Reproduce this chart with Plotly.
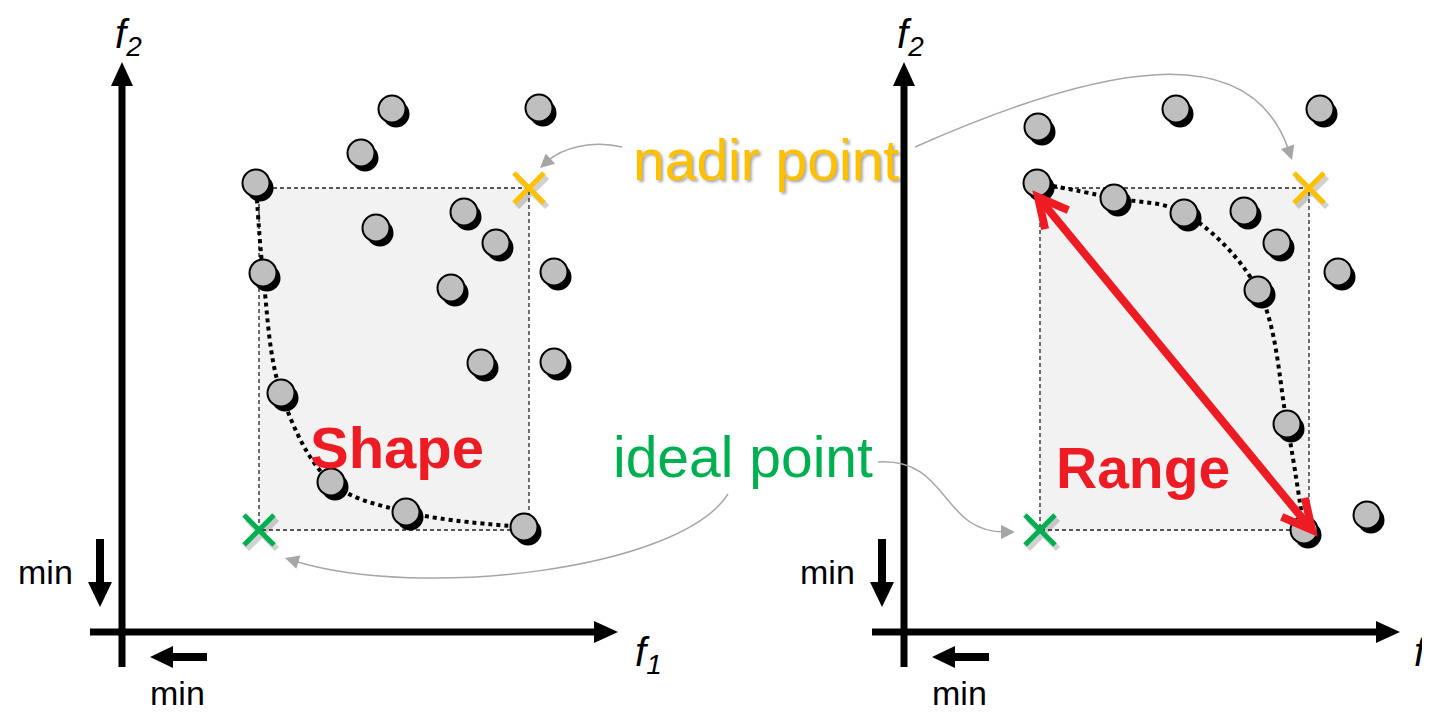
import numpy as np
import plotly.graph_objects as go

# objective values of the solutions, in figure pixel units (f2 measured downward)
left_f1 = [392, 539, 361, 256, 464, 376, 496, 263, 554, 451, 481, 554, 281, 331, 406, 524]
left_f2 = [109, 108, 153, 183, 212, 228, 243, 273, 272, 288, 363, 362, 393, 482, 512, 527]
left_front_f1 = [256, 263, 281, 331, 406, 524]
left_front_f2 = [183, 273, 393, 482, 512, 527]

right_f1 = [1038, 1176, 1320, 1037, 1114, 1184, 1244, 1277, 1338, 1258, 1287, 1304, 1367]
right_f2 = [127, 109, 109, 183, 198, 213, 211, 243, 272, 290, 424, 530, 515]
right_front_f1 = [1037, 1114, 1184, 1258, 1287, 1304]
right_front_f2 = [183, 198, 213, 290, 424, 530]

nadir_f1 = [529, 1309]
nadir_f2 = [188, 188]
ideal_f1 = [259, 1040]
ideal_f2 = [530, 530]

RED = "#ED1C24"
GOLD = "#FFC000"
GREEN = "#00B050"
GRAY = "#A6A6A6"
FONT = "Liberation Sans, Arial, sans-serif"
PAGE = 8  # body margin of the html page


def tri(tip, direction, length, half):
    d = np.array(direction, float)
    d /= np.linalg.norm(d)
    n = np.array([-d[1], d[0]])
    t = np.array(tip, float)
    b = t - d * length
    p1, p2 = b + n * half, b - n * half
    return f"M {t[0]:.1f},{t[1]:.1f} L {p1[0]:.1f},{p1[1]:.1f} L {p2[0]:.1f},{p2[1]:.1f} Z"


def vee(tip, direction, length, angle):
    d = np.array(direction, float)
    d /= np.linalg.norm(d)
    t = np.array(tip, float)
    pts = []
    for a in (angle, -angle):
        r = np.radians(a)
        rot = np.array([d[0] * np.cos(r) - d[1] * np.sin(r), d[0] * np.sin(r) + d[1] * np.cos(r)])
        pts.append(t - rot * length)
    return (f"M {pts[0][0]:.1f},{pts[0][1]:.1f} L {t[0]:.1f},{t[1]:.1f} "
            f"L {pts[1][0]:.1f},{pts[1][1]:.1f}")


fig = go.Figure()
shapes = []

# light gray box between ideal and nadir point
for i in range(2):
    shapes.append(dict(type="rect", x0=ideal_f1[i], x1=nadir_f1[i], y0=nadir_f2[i], y1=ideal_f2[i],
                       fillcolor="#F2F2F2", line=dict(color="#222222", width=1.3, dash="4px,3px"),
                       layer="below"))

# dotted pareto fronts
for fx, fy in [(left_front_f1, left_front_f2), (right_front_f1, right_front_f2)]:
    fig.add_trace(go.Scatter(x=fx, y=fy, mode="lines", line=dict(color="black", width=4, dash="dot",
                                                                 shape="spline", smoothing=1.0),
                             hoverinfo="skip"))

# solutions: black shadow + gray disc
for fx, fy in [(left_f1, left_f2), (right_f1, right_f2)]:
    fig.add_trace(go.Scatter(x=np.array(fx) + 4, y=np.array(fy) + 5, mode="markers",
                             marker=dict(size=27, color="black", line=dict(width=0)), hoverinfo="skip"))
    fig.add_trace(go.Scatter(x=fx, y=fy, mode="markers",
                             marker=dict(size=27, color="#BFBFBF", line=dict(width=2, color="black"))))

# nadir / ideal crosses
for fx, fy, col in [(nadir_f1, nadir_f2, GOLD), (ideal_f1, ideal_f2, GREEN)]:
    fig.add_trace(go.Scatter(x=np.array(fx) + 3, y=np.array(fy) + 4, mode="markers",
                             marker=dict(symbol="x-thin", size=30, line=dict(width=6, color="rgba(0,0,0,0.18)"))))
    fig.add_trace(go.Scatter(x=fx, y=fy, mode="markers",
                             marker=dict(symbol="x-thin", size=30, line=dict(width=5, color=col))))

# axes with arrow heads
for ox in (122, 904):
    shapes.append(dict(type="line", x0=ox, x1=ox, y0=667, y1=84, line=dict(color="black", width=7)))
    shapes.append(dict(type="path", path=tri((ox, 62), (0, -1), 24, 11), fillcolor="black", line=dict(width=0)))
    shapes.append(dict(type="line", x0=ox - 32, x1=ox + 474, y0=632, y1=632, line=dict(color="black", width=7)))
    shapes.append(dict(type="path", path=tri((ox + 496, 632), (1, 0), 24, 11), fillcolor="black", line=dict(width=0)))
    # "min" direction arrows
    shapes.append(dict(type="line", x0=ox - 22, x1=ox - 22, y0=539, y1=585, line=dict(color="black", width=8)))
    shapes.append(dict(type="path", path=tri((ox - 22, 607), (0, 1), 25, 12), fillcolor="black", line=dict(width=0)))
    shapes.append(dict(type="line", x0=ox + 85, x1=ox + 49, y0=657, y1=657, line=dict(color="black", width=8)))
    shapes.append(dict(type="path", path=tri((ox + 28, 657), (-1, 0), 23, 11), fillcolor="black", line=dict(width=0)))

# red range arrow (double headed, open heads)
r0, r1 = np.array([1038, 197]), np.array([1312, 530])
d = r1 - r0
shapes.append(dict(type="line", x0=r0[0], y0=r0[1], x1=r1[0], y1=r1[1], line=dict(color=RED, width=8), layer="above"))
shapes.append(dict(type="path", path=vee(r1, d, 33, 27), line=dict(color=RED, width=8), layer="above"))
shapes.append(dict(type="path", path=vee(r0, -d, 33, 27), line=dict(color=RED, width=8), layer="above"))

# gray curved connectors from the labels
connectors = [
    [(622, 147), (592, 140), (562, 148), (540, 168)],
    [(915, 147), (1100, 65), (1250, 35), (1292, 160)],
    [(728, 494), (680, 570), (420, 600), (285, 558)],
    [(878, 462), (950, 458), (940, 532), (1015, 532)],
]
for p0, c1, c2, p3 in connectors:
    dirv = np.array(p3, float) - np.array(c2, float)
    dirv /= np.linalg.norm(dirv)
    end = np.array(p3) - dirv * 10
    shapes.append(dict(type="path", path=f"M {p0[0]},{p0[1]} C {c1[0]},{c1[1]} {c2[0]},{c2[1]} {end[0]:.1f},{end[1]:.1f}",
                       line=dict(color=GRAY, width=1.5)))
    shapes.append(dict(type="path", path=tri(p3, dirv, 14, 7), fillcolor=GRAY, line=dict(width=0)))

annotations = [
    dict(x=766, y=160, text="nadir point", font=dict(size=57, color=GOLD, family=FONT,
                                                      shadow="2px 2px 3px rgba(0,0,0,0.35)")),
    dict(x=743, y=457, text="ideal point", font=dict(size=57, color=GREEN, family=FONT)),
    dict(x=397, y=447, text="<b>Shape</b>", font=dict(size=58, color=RED, family=FONT)),
    dict(x=1143, y=468, text="<b>Range</b>", font=dict(size=57, color=RED, family=FONT)),
]
for ox in (122, 904):
    annotations += [
        dict(x=ox + 6, y=37, text="<i>f<sub>2</sub></i>", font=dict(size=40, color="black", family=FONT)),
        dict(x=ox - 77, y=572, text="min", font=dict(size=34, color="black", family=FONT)),
        dict(x=ox + 55, y=693, text="min", font=dict(size=34, color="black", family=FONT)),
    ]
annotations += [
    dict(x=648, y=655, text="<i>f<sub>1</sub></i>", font=dict(size=40, color="black", family=FONT)),
    dict(x=1412, y=655, xanchor="left", text="<i>f<sub>1</sub></i>", font=dict(size=40, color="black", family=FONT)),
]
for a in annotations:
    a.update(xref="x", yref="y", showarrow=False)
    a.setdefault("xanchor", "center")
    a.setdefault("yanchor", "middle")

fig.update_layout(
    width=1430, height=712,
    margin=dict(l=0, r=0, t=0, b=0),
    plot_bgcolor="white", paper_bgcolor="white",
    showlegend=False,
    shapes=shapes, annotations=annotations,
    xaxis=dict(range=[PAGE, 1430 + PAGE], visible=False, fixedrange=True),
    yaxis=dict(range=[712 + PAGE, PAGE], visible=False, fixedrange=True),
)

fig.write_html("out.html")
